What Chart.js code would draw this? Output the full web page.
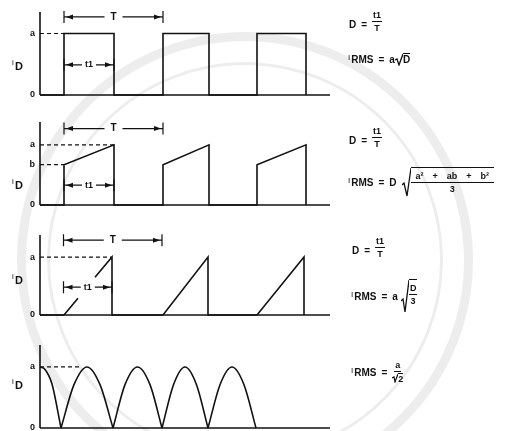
<!DOCTYPE html>
<html lang="en">
<head>
<meta charset="UTF-8">
<title>Diode current waveforms</title>
<script src="https://cdn.jsdelivr.net/npm/chart.js"></script>
<style>
  body { margin: 0; background: #fff; }
  #wrap { position: relative; width: 523px; height: 431px; overflow: hidden;
          font-family: "Liberation Sans", Arial, sans-serif; font-weight: bold; color: #111; }
  .ring { position: absolute; box-sizing: border-box; border-radius: 50%; border-style: solid; border-color: rgba(0,0,0,0.07); }
  canvas { position: absolute; left: 0; }
  .eq { position: absolute; display: flex; align-items: center; font-size: 10px; white-space: nowrap; }
  .lhs { position: relative; top: 3px; }
  .op { margin: 0 5px; }
  .i { font-size: 8px; font-weight: normal; position: relative; top: -2px; margin-right: 1px; }
  .frac { display: inline-flex; flex-direction: column; align-items: center; font-size: 9px; line-height: 10px; }
  .frac > span:first-child { border-bottom: 1px solid #111; padding: 0 1px 1px; }
  .frac > span:last-child { padding-top: 1px; }
  .rad { display: inline-flex; align-items: flex-start; }
  .rad svg { display: block; }
  .under { border-top: 1px solid #111; display: inline-flex; justify-content: center; }
  .wide > span:first-child { padding: 0 5px 1px; font-size: 9px; }
  .wide .pm { margin: 0 9px; }
</style>
</head>
<body>
<div id="wrap">
  <div class="ring" style="left:17px;top:32px;width:456px;height:456px;border-width:9px"></div>
  <div class="ring" style="left:47px;top:62px;width:396px;height:396px;border-width:3px"></div>

  <canvas id="c1" width="523" height="105" style="top:0"></canvas>
  <canvas id="c2" width="523" height="110" style="top:105px"></canvas>
  <canvas id="c3" width="523" height="105" style="top:215px"></canvas>
  <canvas id="c4" width="523" height="111" style="top:320px"></canvas>

  <!-- duty cycle and rms expressions -->
  <div class="eq" style="left:349px;top:10px">
    <span class="lhs">D</span><span class="op lhs">=</span>
    <span class="frac"><span>t1</span><span>T</span></span>
  </div>
  <div class="eq" style="left:348px;top:53px">
    <span class="i">I</span>RMS<span class="op">=</span>a
    <span class="rad"><svg width="8" height="13"><polyline points="0,7 2,6 4,12 8,1" fill="none" stroke="#111" stroke-width="1.3"/></svg><span class="under">D</span></span>
  </div>

  <div class="eq" style="left:349px;top:126px">
    <span class="lhs">D</span><span class="op lhs">=</span>
    <span class="frac"><span>t1</span><span>T</span></span>
  </div>
  <div class="eq" style="left:348px;top:167px">
    <span class="i">I</span>RMS<span class="op">=</span>D<span style="width:5px"></span>
    <span class="rad"><svg width="9" height="30"><polyline points="0,18 2,16 5,29 9,1" fill="none" stroke="#111" stroke-width="1.3"/></svg>
      <span class="under" style="padding-top:3px"><span class="frac wide"><span>a²<span class="pm">+</span>ab<span class="pm">+</span>b²</span><span>3</span></span></span>
    </span>
  </div>

  <div class="eq" style="left:352px;top:236px">
    <span class="lhs">D</span><span class="op lhs">=</span>
    <span class="frac"><span>t1</span><span>T</span></span>
  </div>
  <div class="eq" style="left:351px;top:279px">
    <span class="i">I</span>RMS<span class="op">=</span>a<span style="width:3px"></span>
    <span class="rad"><svg width="8" height="34"><polyline points="0,22 2,20 4,33 8,1" fill="none" stroke="#111" stroke-width="1.3"/></svg>
      <span class="under" style="padding-top:3px"><span class="frac"><span>D</span><span>3</span></span></span>
    </span>
  </div>

  <div class="eq" style="left:351px;top:360px">
    <span class="i">I</span>RMS<span class="op">=</span>
    <span class="frac"><span>a</span><span class="rad"><svg width="6" height="10"><polyline points="0,5 2,4 3,9 6,1" fill="none" stroke="#111" stroke-width="1.2"/></svg><span class="under">2</span></span></span>
  </div>
</div>

<script>
const X_MAX = 29;

// rectangular pulses, height a
const pulseX = [0, 2.4, 2.4, 7.4, 7.4, 12.3, 12.3, 16.9, 16.9, 21.7, 21.7, 26.6, 26.6];
const pulseY = [0, 0, 1, 1, 0, 0, 1, 1, 0, 0, 1, 1, 0];

// trapezoidal pulses, rising from b to a
const trapX = [0, 2.4, 2.4, 7.4, 7.4, 12.3, 12.3, 16.9, 16.9, 21.7, 21.7, 26.6, 26.6];
const trapY = [0, 0, 0.67, 1, 0, 0, 0.67, 1, 0, 0, 0.67, 1, 0];

// triangular pulses; the first ramp is broken where the t1 label sits
const rampX = [0, 2.4, 3.8, 4.6, 5.5, 7.2, 7.2, 12.3, 16.8, 16.8, 21.7, 26.4, 26.4];
const rampY = [0, 0, 0.29, null, 0.65, 1, 0, 0, 1, 0, 0, 1, 0];

// full-wave rectified sine, one hump per segment
const sineX = [0, 0.5, 1.2, 2.1, 2.1, 2.1, 3.4, 4.7, 6.0, 7.3, 7.3, 7.3, 8.5, 9.75, 11.0, 12.2,
               12.2, 12.2, 13.35, 14.5, 15.65, 16.8, 16.8, 16.8, 18.0, 19.2, 20.4, 21.6];
const sineY = [1, 0.96, 0.72, 0, null, 0, 0.71, 1, 0.71, 0, null, 0, 0.71, 1, 0.71, 0,
               null, 0, 0.71, 1, 0.71, 0, null, 0, 0.71, 1, 0.71, 0];

// level labels on the current axis
const tickValues1 = [0, 1];
const tickLabels1 = ['0', 'a'];
const tickValues2 = [0, 0.67, 1];
const tickLabels2 = ['0', 'b', 'a'];
const tickValues3 = [0, 1];
const tickLabels3 = ['0', 'a'];
const tickValues4 = [0, 1];
const tickLabels4 = ['0', 'a'];

const INK = '#111';

function pts(xs, ys) {
  return xs.map((x, i) => ({ x: x, y: ys[i] }));
}

function dashed(x0, x1, level) {
  return { data: [{ x: x0, y: level }, { x: x1, y: level }], borderColor: INK, borderWidth: 1.2,
           borderDash: [4, 3], pointRadius: 0, clip: false };
}

function arrowHead(ctx, tipX, y, dir) {
  ctx.beginPath();
  ctx.moveTo(tipX, y);
  ctx.lineTo(tipX - dir * 7, y - 2.5);
  ctx.lineTo(tipX - dir * 7, y + 2.5);
  ctx.closePath();
  ctx.fill();
}

// "|<-- label -->|" span between two times
function dimension(ctx, x1, x2, y, label, gap, font) {
  const mid = (x1 + x2) / 2;
  ctx.beginPath();
  ctx.moveTo(x1, y - 6); ctx.lineTo(x1, y + 6);
  ctx.moveTo(x2, y - 6); ctx.lineTo(x2, y + 6);
  ctx.moveTo(x1, y); ctx.lineTo(mid - gap, y);
  ctx.moveTo(mid + gap, y); ctx.lineTo(x2, y);
  ctx.stroke();
  arrowHead(ctx, x1 + 2, y, -1);
  arrowHead(ctx, x2 - 2, y, 1);
  ctx.font = font;
  ctx.textAlign = 'center';
  ctx.textBaseline = 'middle';
  ctx.fillText(label, mid, y);
}

const annotate = {
  id: 'annotate',
  afterDatasetsDraw(chart, args, opts) {
    const ctx = chart.ctx, xs = chart.scales.x, ys = chart.scales.y;
    const left = chart.chartArea.left;
    ctx.save();
    ctx.fillStyle = INK;
    ctx.strokeStyle = INK;
    ctx.lineWidth = 1.2;
    ctx.textAlign = 'right';
    ctx.textBaseline = 'middle';
    ctx.font = 'bold 9px "Liberation Sans", Arial, sans-serif';
    opts.tickValues.forEach((v, i) => ctx.fillText(opts.tickLabels[i], left - 5, ys.getPixelForValue(v)));

    // axis name i_D
    const ly = ys.getPixelForValue(opts.nameAt);
    ctx.textAlign = 'left';
    ctx.font = '8px "Liberation Sans", Arial, sans-serif';
    ctx.fillText('i', 12, ly - 3);
    ctx.font = 'bold 11px "Liberation Sans", Arial, sans-serif';
    ctx.fillText('D', 15, ly + 1);

    if (opts.period) {
      const p = opts.period;
      dimension(ctx, xs.getPixelForValue(p[0]), xs.getPixelForValue(p[1]), ys.getPixelForValue(p[2]),
                'T', 9, 'bold 10px "Liberation Sans", Arial, sans-serif');
    }
    if (opts.onTime) {
      const p = opts.onTime;
      dimension(ctx, xs.getPixelForValue(p[0]), xs.getPixelForValue(p[1]), ys.getPixelForValue(p[2]),
                't1', 7, 'bold 9px "Liberation Sans", Arial, sans-serif');
    }
    ctx.restore();
  }
};

function panel(id, yMax, pad, wave, guides, marks, monotone) {
  const datasets = [
    // current axis and time axis
    { data: [{ x: 0, y: 0 }, { x: 0, y: yMax }], borderColor: INK, borderWidth: 1.6, pointRadius: 0, clip: false },
    { data: [{ x: 0, y: 0 }, { x: X_MAX, y: 0 }], borderColor: INK, borderWidth: 1.6, pointRadius: 0, clip: false },
    { data: wave, borderColor: INK, borderWidth: 1.6, pointRadius: 0, spanGaps: false, clip: false,
      cubicInterpolationMode: monotone ? 'monotone' : 'default', tension: 0 }
  ].concat(guides);

  return new Chart(document.getElementById(id), {
    type: 'line',
    data: { datasets: datasets },
    options: {
      responsive: false,
      animation: false,
      events: [],
      layout: { padding: { left: 40, right: 193, top: pad[0], bottom: pad[1] } },
      scales: {
        x: { type: 'linear', min: 0, max: X_MAX, display: false },
        y: { type: 'linear', min: 0, max: yMax, display: false }
      },
      plugins: { legend: { display: false }, tooltip: { enabled: false }, annotate: marks }
    },
    plugins: [annotate]
  });
}

panel('c1', 1.35, [12, 10], pts(pulseX, pulseY),
  [dashed(0, 2.4, 1)],
  { tickValues: tickValues1, tickLabels: tickLabels1, nameAt: 0.47,
    period: [2.4, 12.3, 1.27], onTime: [2.4, 7.4, 0.49] });

panel('c2', 1.38, [17, 10], pts(trapX, trapY),
  [dashed(0, 7.4, 1), dashed(0, 2.4, 0.67)],
  { tickValues: tickValues2, tickLabels: tickLabels2, nameAt: 0.33,
    period: [2.4, 12.3, 1.27], onTime: [2.4, 7.4, 0.33] });

panel('c3', 1.38, [20, 5], pts(rampX, rampY),
  [dashed(0, 7.2, 1)],
  { tickValues: tickValues3, tickLabels: tickLabels3, nameAt: 0.6,
    period: [2.35, 12.2, 1.29], onTime: [2.35, 7.2, 0.48] });

panel('c4', 1.36, [25, 3], pts(sineX, sineY),
  [dashed(0, 4.2, 1)],
  { tickValues: tickValues4, tickLabels: tickLabels4, nameAt: 0.7 }, true);
</script>
</body>
</html>
